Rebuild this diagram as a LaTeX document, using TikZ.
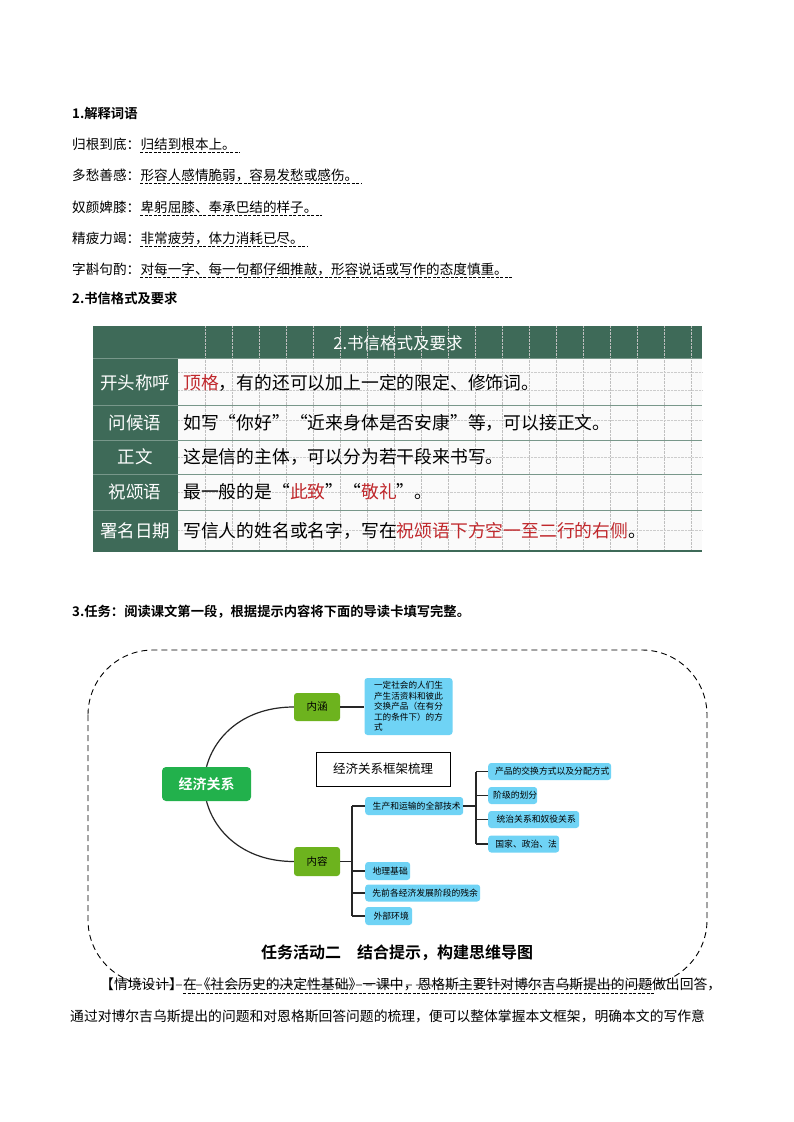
\documentclass[tikz,border=0pt]{standalone}
\usepackage{fontspec}
\setmainfont{Noto Sans CJK SC}
\newfontfamily\cjk{Noto Sans CJK SC}
\newfontfamily\cjkb{Noto Sans CJK SC Bold}
\usetikzlibrary{calc}
\definecolor{tgreen}{HTML}{3E6A58}
\definecolor{mgreen}{HTML}{22B14C}
\definecolor{lgreen}{HTML}{6DB31E}
\definecolor{lblue}{HTML}{6FD3F5}
\definecolor{tred}{HTML}{C0282C}
\begin{document}
\begin{tikzpicture}[x=1pt,y=-1pt,
  heading/.style={anchor=west,font=\cjkb\fontsize{13.3}{13}\selectfont,inner sep=0pt},
  body/.style={anchor=west,font=\fontsize{13.6}{14}\selectfont},
  udash/.style={draw,dashed,line width=0.5pt,dash pattern=on 3pt off 1.5pt},
  tleft/.style={anchor=center,text=white,font=\fontsize{17.5}{18}\selectfont},
  tright/.style={anchor=west,font=\fontsize{17.8}{18}\selectfont,inner sep=0pt},
  gbox/.style={rounded corners=3pt,fill=lgreen,text=black,font=\fontsize{10.5}{10}\selectfont,inner sep=0pt},
  bbox/.style={rounded corners=3pt,fill=lblue,font=\fontsize{8.8}{8}\selectfont,inner sep=0pt,anchor=west},
  conn/.style={line width=1.2pt,draw=black!85}]
\useasboundingbox (0,0) rectangle (793,1122);
\fill[white] (0,0) rectangle (793,1122);
% section 1
\node[heading] (h1) at (72,113) {1.解释词语};
\foreach \y/\a/\b [count=\i] in {144/归根到底：/归结到根本上。,175/多愁善感：/形容人感情脆弱，容易发愁或感伤。,207/奴颜婢膝：/卑躬屈膝、奉承巴结的样子。,238/精疲力竭：/非常疲劳，体力消耗已尽。,269/字斟句酌：/对每一字、每一句都仔细推敲，形容说话或写作的态度慎重。}{
  \node[body,inner sep=0pt] (t\i) at (72,\y) {\a};
  \node[body,inner sep=0pt] (d\i) at (t\i.east) {\b};
  \draw[udash] (d\i.south west)++(0,2) -- ($(d\i.south east)+(4,2)$);
}
\node[heading] (h2) at (72,298) {2.书信格式及要求};
% table
\fill[tgreen] (93,326) rectangle (702,358);
\fill[tgreen] (93,358) rectangle (178,551);
\fill[black!2] (178,358) rectangle (702,551);
\foreach \x in {205,232,259,286,313,340,367,394,421,448,475,502,529,556,583,610,637,664,691}
  \draw[black!25,densely dotted] (\x,326) -- (\x,551);
\foreach \y in {372,390,420,457,492,530}
  \draw[black!20,densely dotted] (178,\y) -- (702,\y);
\foreach \y in {358,405,440,474,510}
  \draw[tgreen!70,line width=1pt] (93,\y) -- (702,\y);
\draw[tgreen,line width=1.5pt] (93,551) -- (702,551);
\node[text=white,font=\fontsize{16.5}{16}\selectfont] (th) at (398,343) {2.书信格式及要求};
\node[tleft] (l1) at (135,383) {开头称呼};
\node[tleft] (l2) at (135,423) {问候语};
\node[tleft] (l3) at (135,457) {正文};
\node[tleft] (l4) at (135,492) {祝颂语};
\node[tleft] (l5) at (135,531) {署名日期};
\node[tright] (r1) at (183,383) {\textcolor{tred}{顶格}，有的还可以加上一定的限定、修饰词。};
\node[tright] (r2) at (183,423) {如写“你好”“近来身体是否安康”等，可以接正文。};
\node[tright] (r3) at (183,457) {这是信的主体，可以分为若干段来书写。};
\node[tright] (r4) at (183,492) {最一般的是“\textcolor{tred}{此致}”“\textcolor{tred}{敬礼}”。};
\node[tright] (r5) at (183,531) {写信人的姓名或名字，写在\textcolor{tred}{祝颂语下方空一至二行的右侧}。};
% section 3
\node[heading] (h3) at (72,612) {3.任务：阅读课文第一段，根据提示内容将下面的导读卡填写完整。};
\draw[dashed,line width=0.9pt,dash pattern=on 6pt off 4pt,rounded corners=65pt] (88,650) rectangle (707,985);
% mind map
\node[rounded corners=4pt,fill=mgreen,text=white,font=\cjkb\fontsize{14}{14}\selectfont,minimum width=89pt,minimum height=34pt] (root) at (206.5,784) {经济关系};
\node[gbox,minimum width=46pt,minimum height=28pt] (nh) at (317,707) {内涵};
\node[gbox,minimum width=46pt,minimum height=29pt] (nr) at (317,861.5) {内容};
\node[rounded corners=3pt,fill=lblue,font=\fontsize{8.6}{10.6}\selectfont,minimum width=88pt,minimum height=57pt,align=left,inner sep=2pt] (def) at (408.5,706.5) {一定社会的人们生\\产生活资料和彼此\\交换产品（在有分\\工的条件下）的方\\式};
\node[draw,font=\fontsize{12.5}{12}\selectfont,minimum width=134pt,minimum height=34pt,line width=0.6pt] (title) at (383,769) {经济关系框架梳理};
\node[bbox,minimum width=98pt,minimum height=18pt] (sc) at (365,806) {\hspace{5pt}生产和运输的全部技术};
\node[bbox,minimum width=123pt,minimum height=17pt] (p1) at (488,771.5) {\hspace{5pt}产品的交换方式以及分配方式};
\node[bbox,minimum width=43pt,minimum height=17pt] (p2) at (488,795.5) {\hspace{5pt}阶级的划分};
\node[bbox,minimum width=91pt,minimum height=17pt] (p3) at (488,819.5) {\hspace{5pt}统治关系和奴役关系};
\node[bbox,minimum width=71pt,minimum height=17pt] (p4) at (488,844) {\hspace{5pt}国家、政治、法};
\node[bbox,minimum width=45pt,minimum height=18pt] (q1) at (365,871) {\hspace{5pt}地理基础};
\node[bbox,minimum width=115pt,minimum height=17pt] (q2) at (365,893) {\hspace{5pt}先前各经济发展阶段的残余};
\node[bbox,minimum width=47pt,minimum height=18pt] (q3) at (365,916) {\hspace{5pt}外部环境};
\draw[conn] (root.north) .. controls (215,735) and (245,707) .. (nh.west);
\draw[conn] (root.south) .. controls (215,833) and (245,861.5) .. (nr.west);
\draw[conn] (nh.east) -- (def.west |- nh.east);
\coordinate (v1) at (352,861.5);
\draw[conn] (nr.east) -- (v1);
\draw[conn] (352,806) -- (352,916);
\foreach \n in {sc,q1,q2,q3} \draw[conn] (352,0 |- \n.west) -- (\n.west);
\draw[conn] (sc.east) -- (476,806);
\draw[conn] (476,771.5) -- (476,844);
\foreach \n in {p1,p2,p3,p4} \draw[conn] (476,0 |- \n.west) -- (\n.west);
\node[font=\cjkb\fontsize{16}{16}\selectfont] (t2) at (397,953) {任务活动二\quad 结合提示，构建思维导图};
% paragraph
\node[anchor=west,font=\fontsize{13.8}{14}\selectfont,inner sep=0pt] (pa) at (100,984) {【情境设计】在《社会历史的决定性基础》一课中，恩格斯主要针对博尔吉乌斯提出的问题做出回答，};
\draw[udash] (183,993) -- (655,993);
\node[anchor=west,font=\fontsize{13.8}{14}\selectfont,inner sep=0pt] (pb) at (70,1016) {通过对博尔吉乌斯提出的问题和对恩格斯回答问题的梳理，便可以整体掌握本文框架，明确本文的写作意};
\end{tikzpicture}
\end{document}
